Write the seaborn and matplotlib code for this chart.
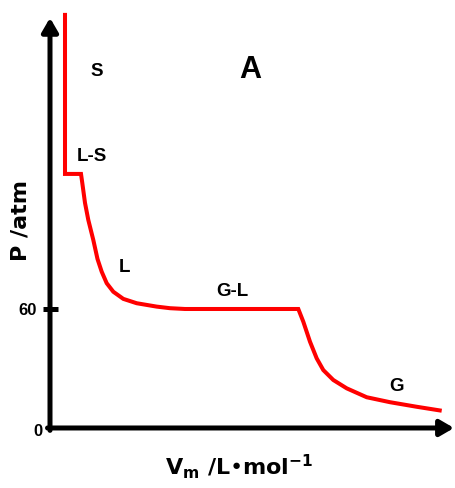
import matplotlib
matplotlib.use("Agg")
import matplotlib.pyplot as plt
import seaborn as sns
import pandas as pd

# Isotherm of a pure substance: molar volume (arbitrary units) vs pressure (atm)
vm = [1.5, 1.5, 3.1, 3.23, 3.5, 3.83, 4.33, 4.75, 5.17, 5.67, 6.33, 7.33,
      8.67, 10.67, 12.0, 13.5, 24.83, 25.33, 26.0, 26.67, 27.33, 28.33, 29.67,
      31.67, 34.0, 36.67, 39.17]
pressure = [209.3, 128.1, 128.1, 123.5, 113.5, 104.9, 94.8, 85.2, 78.8, 73.0,
            68.7, 65.1, 62.9, 61.2, 60.4, 60.0, 60.0, 53.6, 43.5, 35.1, 29.2,
            24.2, 20.0, 15.5, 13.0, 10.7, 8.7]

# Phase-region labels and where they sit (Vm, P)
region_labels = ["S", "L-S", "L", "G-L", "G"]
region_x = [4.7, 4.2, 7.5, 18.2, 34.6]
region_y = [179.5, 136.7, 80.7, 68.6, 20.7]

y_ticks = [60]
title = "A"

sns.set_theme(style="white")
plt.rcParams["mathtext.fontset"] = "dejavusans"
plt.rcParams["text.color"] = "black"

fig = plt.figure(figsize=(4.55, 4.88), dpi=100)
ax = fig.add_axes([0, 0, 1, 1])
ax.set_facecolor("white")

df = pd.DataFrame({"Vm": vm, "P": pressure})
sns.lineplot(data=df, x="Vm", y="P", sort=False, estimator=None, ax=ax,
             color="#ff0000", linewidth=2.9, legend=False)
for ln in ax.get_lines():
    ln.set_solid_joinstyle("miter")
    ln.set_solid_capstyle("butt")

ax.set_xlim(-5, 40.5)
ax.set_ylim(-30.26, 215.8)

# Axes drawn as arrows from the origin
arrow = dict(arrowstyle="-|>,head_length=0.55,head_width=0.32", lw=3.6,
             color="black", shrinkA=0, shrinkB=0, mutation_scale=15)
ax.annotate("", xy=(0, 206.8), xytext=(0, -1.2), arrowprops=arrow)
ax.annotate("", xy=(40.4, 0), xytext=(-0.25, 0), arrowprops=arrow)

for sp in ax.spines.values():
    sp.set_visible(False)
ax.spines["left"].set_position(("data", 0))
ax.set_xticks([])
ax.set_yticks(y_ticks)
ax.set_yticklabels([str(t) for t in y_ticks])
ax.tick_params(axis="y", left=True, direction="inout", length=10.8, width=3.6,
               color="black", labelcolor="black", pad=4.5)
for lbl in ax.get_yticklabels():
    lbl.set_fontfamily("Liberation Sans")
    lbl.set_fontweight("bold")
    lbl.set_fontsize(12)
ax.set_xlabel("")
ax.set_ylabel("")

ax.text(-1.2, -2.0, "0", ha="center", va="center", fontsize=12,
        fontweight="bold", family="Liberation Sans", color="black")

for lab, x, y in zip(region_labels, region_x, region_y):
    ax.text(x, y, lab, ha="center", va="center", fontsize=13.5,
            fontweight="bold", family="Liberation Sans", color="black")

ax.text(20.0, 180.5, title, ha="center", va="center", fontsize=22,
        fontweight="bold", family="Liberation Sans", color="black")

ax.text(-3.0, 104.5, "P /atm", rotation=90, ha="center", va="center",
        fontsize=16, fontweight="bold", family="DejaVu Sans", color="black")
ax.text(18.9, -23.7, r"$\mathbf{V}_\mathbf{m}$ /L•mol$^\mathbf{-1}$",
        ha="center", va="baseline", fontsize=16, fontweight="bold",
        family="DejaVu Sans", color="black")

fig.savefig("out.png", dpi=100, facecolor="white")
